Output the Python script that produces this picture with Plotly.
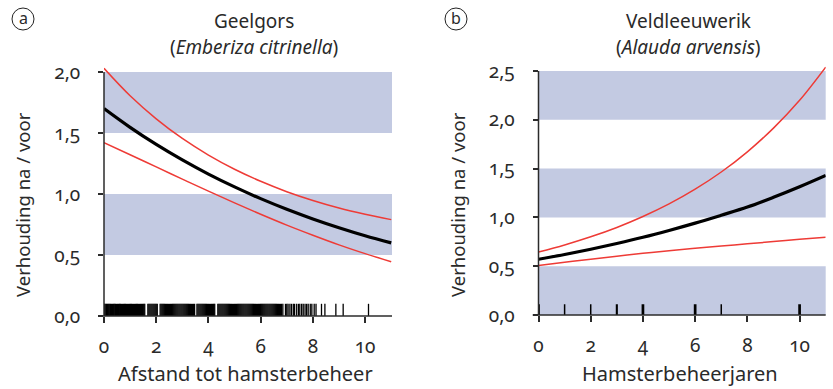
import plotly.graph_objects as go

# ---------------- data ----------------
x_grid = [0, 1, 2, 3, 4, 5, 6, 7, 8, 9, 10, 11]

# Panel a: Geelgors
a_fit = [1.70, 1.546, 1.406, 1.279, 1.163, 1.058, 0.962, 0.875, 0.796, 0.724, 0.658, 0.599]
a_upper = [2.03, 1.805, 1.616, 1.455, 1.319, 1.203, 1.104, 1.019, 0.947, 0.885, 0.834, 0.79]
a_lower = [1.42, 1.322, 1.222, 1.122, 1.023, 0.927, 0.834, 0.745, 0.662, 0.583, 0.511, 0.444]
a_rug = [0.0, 0.03, 0.07, 0.1, 0.14, 0.18, 0.22, 0.25, 0.29, 0.33, 0.37, 0.41, 0.44, 0.48,
         0.52, 0.56, 0.6, 0.63, 0.67, 0.71, 0.75, 0.79, 0.82, 0.86, 0.9, 0.94, 0.98, 1.02,
         1.05, 1.09, 1.13, 1.17, 1.21, 1.25, 1.28, 1.32, 1.36, 1.4, 1.44, 1.48, 1.52, 1.56,
         1.68, 1.72, 1.76, 1.8, 1.84, 1.88, 1.92, 1.96, 2.0, 2.04, 2.15, 2.19, 2.23, 2.27,
         2.31, 2.35, 2.39, 2.43, 2.47, 2.51, 2.55, 2.59, 2.63, 2.67, 2.71, 2.75, 2.79, 2.83,
         2.87, 2.91, 2.95, 2.99, 3.03, 3.07, 3.11, 3.15, 3.19, 3.23, 3.27, 3.31, 3.35, 3.39,
         3.43, 3.47, 3.56, 3.6, 3.64, 3.68, 3.72, 3.76, 3.8, 3.84, 3.88, 3.92, 3.96, 4.0,
         4.04, 4.08, 4.12, 4.16, 4.2, 4.24, 4.36, 4.4, 4.44, 4.48, 4.52, 4.56, 4.6, 4.64,
         4.68, 4.72, 4.76, 4.8, 4.84, 4.88, 4.92, 4.96, 5.0, 5.04, 5.08, 5.12, 5.16, 5.2,
         5.24, 5.28, 5.32, 5.36, 5.4, 5.44, 5.48, 5.52, 5.56, 5.6, 5.64, 5.68, 5.72, 5.76,
         5.8, 5.84, 5.88, 5.92, 5.96, 6.0, 6.04, 6.08, 6.12, 6.16, 6.2, 6.24, 6.28, 6.32,
         6.36, 6.4, 6.44, 6.48, 6.52, 6.56, 6.6, 6.64, 6.68, 6.72, 6.76, 6.8, 6.85, 6.95,
         7.0, 7.05, 7.12, 7.18, 7.25, 7.3, 7.38, 7.45, 7.5, 7.57, 7.63, 7.7, 7.76, 7.82,
         7.9, 7.96, 8.05, 8.12, 8.33, 8.46, 8.88, 9.16, 10.13]

# Panel b: Veldleeuwerik
b_fit = [0.571, 0.62, 0.674, 0.733, 0.796, 0.866, 0.941, 1.022, 1.106, 1.206, 1.314, 1.43]
b_upper = [0.646, 0.718, 0.801, 0.897, 1.009, 1.138, 1.289, 1.465, 1.672, 1.915, 2.20, 2.54]
b_lower = [0.506, 0.54, 0.572, 0.603, 0.632, 0.659, 0.683, 0.706, 0.729, 0.752, 0.775, 0.797]
b_rug = [0, 1, 2, 3, 4, 6, 7, 10]
b_rug_count = [3, 1, 1, 2, 3, 3, 1, 3]

a_yticks = [0, 0.5, 1.0, 1.5, 2.0]
a_yticktext = ["0,0", "0,5", "1,0", "1,5", "2,0"]
b_yticks = [0, 0.5, 1.0, 1.5, 2.0, 2.5]
b_yticktext = ["0,0", "0,5", "1,0", "1,5", "2,0", "2,5"]
xticks = [0, 2, 4, 6, 8, 10]
xticktext = ["0", "2", "4", "6", "8", "10"]

a_bands = [(0.5, 1.0), (1.5, 2.0)]
b_bands = [(0.0, 0.5), (1.0, 1.5), (2.0, 2.5)]

# ---------------- style ----------------
W, H = 833, 389
FONT = "Noto Sans"
RED = "#ee3b36"
BAND = "#c3cae2"
AX = "#2b2b2b"
TXT = "#2a2a2a"

def px(xp):
    return xp / W

def py(yp):
    return 1 - yp / H

fig = go.Figure()

def rug_xy(vals, top):
    xs, ys = [], []
    for v in vals:
        xs += [v, v, None]
        ys += [0, top, None]
    return xs, ys

# panel a traces
rx, ry = rug_xy(a_rug, 0.1)
fig.add_trace(go.Scatter(x=rx, y=ry, mode="lines", line=dict(color="black", width=1.3),
                         xaxis="x", yaxis="y", hoverinfo="skip"))
fig.add_trace(go.Scatter(x=x_grid, y=a_upper, mode="lines", line=dict(color=RED, width=1.5, shape="spline"),
                         xaxis="x", yaxis="y"))
fig.add_trace(go.Scatter(x=x_grid, y=a_lower, mode="lines", line=dict(color=RED, width=1.5, shape="spline"),
                         xaxis="x", yaxis="y"))
fig.add_trace(go.Scatter(x=x_grid, y=a_fit, mode="lines", line=dict(color="black", width=3.2, shape="spline"),
                         xaxis="x", yaxis="y"))

# panel b traces
for v, c in zip(b_rug, b_rug_count):
    fig.add_trace(go.Scatter(x=[v, v], y=[0, 0.11], mode="lines",
                             line=dict(color="black", width=0.9 + 0.6 * c),
                             xaxis="x2", yaxis="y2", hoverinfo="skip"))
fig.add_trace(go.Scatter(x=x_grid, y=b_upper, mode="lines", line=dict(color=RED, width=1.5, shape="spline"),
                         xaxis="x2", yaxis="y2"))
fig.add_trace(go.Scatter(x=x_grid, y=b_lower, mode="lines", line=dict(color=RED, width=1.5, shape="spline"),
                         xaxis="x2", yaxis="y2"))
fig.add_trace(go.Scatter(x=x_grid, y=b_fit, mode="lines", line=dict(color="black", width=3.2, shape="spline"),
                         xaxis="x2", yaxis="y2"))

# geometry
a_left, a_right = 104, 392
b_left, b_right = 538.5, 825.7
a_y0, a_unit = 316.0, 122.0
b_y0, b_unit = 315.0, 97.6
a_ymax, b_ymax = 2.05, 2.56

axis_common = dict(showgrid=False, zeroline=False, showline=False, ticks="outside", automargin=False,
                   tickcolor=AX, tickwidth=1.5, tickfont=dict(family=FONT, size=19, color=TXT))

shapes = []
for (lo, hi) in a_bands:
    shapes.append(dict(type="rect", xref="x domain", yref="y", x0=0, x1=1, y0=lo, y1=hi,
                       fillcolor=BAND, line=dict(width=0), layer="below"))
for (lo, hi) in b_bands:
    shapes.append(dict(type="rect", xref="x2 domain", yref="y2", x0=0, x1=1, y0=lo, y1=hi,
                       fillcolor=BAND, line=dict(width=0), layer="below"))
# axis lines
shapes.append(dict(type="line", xref="paper", yref="y", x0=px(a_left), x1=px(a_left), y0=0, y1=2.0,
                   line=dict(color=AX, width=1.5)))
shapes.append(dict(type="line", xref="paper", yref="paper", x0=px(98), x1=px(a_right),
                   y0=py(a_y0), y1=py(a_y0), line=dict(color=AX, width=1.5)))
shapes.append(dict(type="line", xref="paper", yref="y2", x0=px(b_left), x1=px(b_left), y0=0, y1=2.5,
                   line=dict(color=AX, width=1.5)))
shapes.append(dict(type="line", xref="paper", yref="paper", x0=px(532.7), x1=px(b_right),
                   y0=py(b_y0), y1=py(b_y0), line=dict(color=AX, width=1.5)))
# panel label circles
for cx in (23, 456):
    shapes.append(dict(type="circle", xref="paper", yref="paper", x0=px(cx - 11), x1=px(cx + 11),
                       y0=py(30), y1=py(8), line=dict(color="#222", width=1)))

annotations = []
def ann(text, x, y, size, **kw):
    annotations.append(dict(text=text, x=px(x), y=py(y), xref="paper", yref="paper", showarrow=False,
                            xanchor="center", yanchor="middle",
                            font=dict(family=FONT, size=size, color=TXT), **kw))

ann("a", 23, 18, 16)
ann("b", 456, 18, 16)
ann("Geelgors", 254, 21, 19)
ann("(<i>Emberiza citrinella</i>)", 254, 47, 19)
ann("Veldleeuwerik", 688, 21, 19)
ann("(<i>Alauda arvensis</i>)", 688, 47, 19)
ann("Verhouding na / voor", 22, 205, 18.5, textangle=-90)
ann("Verhouding na / voor", 457, 205, 18.5, textangle=-90)
ann("Afstand tot hamsterbeheer", 245, 373, 20)
ann("Hamsterbeheerjaren", 680, 373, 20)

fig.update_layout(
    width=W, height=H, margin=dict(l=0, r=0, t=0, b=0, autoexpand=False),
    paper_bgcolor="white", plot_bgcolor="white", showlegend=False,
    xaxis=dict(domain=[px(a_left), px(a_right)], range=[0, 11.03], tickvals=xticks, ticktext=xticktext,
               ticklen=6, ticklabelstandoff=7, anchor="y", **axis_common),
    yaxis=dict(domain=[py(a_y0), py(a_y0 - a_ymax * a_unit)], range=[0, a_ymax], tickvals=a_yticks,
               ticktext=a_yticktext, ticklen=5, ticklabelstandoff=14, anchor="x", **axis_common),
    xaxis2=dict(domain=[px(b_left), px(b_right)], range=[0, 11.0], tickvals=xticks, ticktext=xticktext,
                ticklen=6, ticklabelstandoff=7, anchor="y2", **axis_common),
    yaxis2=dict(domain=[py(b_y0), py(b_y0 - b_ymax * b_unit)], range=[0, b_ymax], tickvals=b_yticks,
                ticktext=b_yticktext, ticklen=5, ticklabelstandoff=14, anchor="x2", **axis_common),
    shapes=shapes, annotations=annotations,
)

fig.write_html("out.html", config={"displayModeBar": False},
               post_script=("document.body.style.margin='0';document.body.style.overflow='hidden';"
                            "document.querySelectorAll('svg text').forEach(function(t){"
                            "t.style.fontVariantNumeric='oldstyle-nums';});"))
